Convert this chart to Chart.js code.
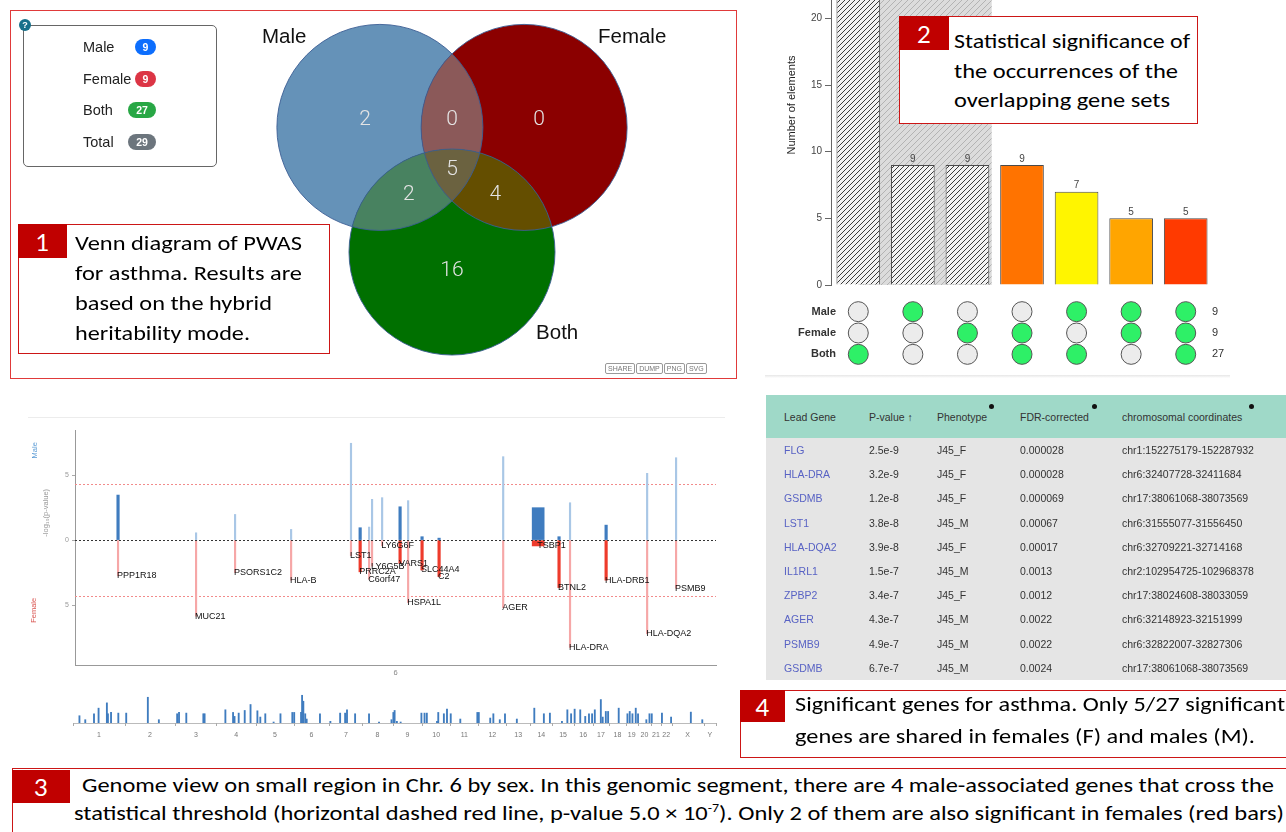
<!DOCTYPE html>
<html>
<head>
<meta charset="utf-8">
<script src="https://cdn.jsdelivr.net/npm/chart.js@4.4.1/dist/chart.umd.min.js"></script>
<style>
body { margin:0; width:1286px; height:832px; overflow:hidden; background:#fff; position:relative; font-family:"Liberation Sans", Arial, sans-serif; }
canvas { position:absolute; }
.frame { position:absolute; box-sizing:border-box; border:1.5px solid #e03a3a; pointer-events:none; }
.box { position:absolute; box-sizing:border-box; border:1.5px solid #cc1616; background:#fff; }
.tab { position:absolute; background:#c00000; color:#fff; font:24px Lato, sans-serif; display:flex; align-items:center; justify-content:center; }
.cap { position:absolute; font-family:Carlito, Lato, sans-serif; font-size:21px; line-height:1; color:#000; white-space:nowrap; transform-origin:0 0; }
.cap sup { font-size:12px; line-height:0; }
#legend { position:absolute; left:23px; top:25px; width:194px; height:142px; box-sizing:border-box; border:1.5px solid #666; border-radius:5px; background:#fff; }
.lg-name { position:absolute; left:59px; font-size:14.5px; color:#222; line-height:16px; }
.badge { position:absolute; height:16px; border-radius:8px; color:#fff; font:bold 10.5px "Liberation Sans", Arial, sans-serif; line-height:16px; text-align:center; }
#help { position:absolute; left:19px; top:19px; width:12px; height:12px; border-radius:50%; background:#17708a; color:#fff; font:bold 9px "Liberation Sans", Arial; line-height:12px; text-align:center; }
.btns { position:absolute; left:605px; top:363px; font:7px "Liberation Sans", Arial; color:#777; }
.btns span { display:inline-block; border:1px solid #999; border-radius:2px; padding:0 2px; margin-right:1px; line-height:9px; }
#tbl { position:absolute; left:766px; top:395px; width:540px; border-collapse:collapse; table-layout:fixed; font:10.5px "Liberation Sans", Arial, sans-serif; color:#333; }
#tbl th { height:43px; background:#9fd9c8; font-weight:normal; text-align:left; padding:0; position:relative; }
#tbl td { height:24.2px; background:#e5e5e5; padding:0; }
#tbl th:first-child, #tbl td:first-child { padding-left:18px; }
#tbl td.gene { color:#5862c4; }
.dot { position:absolute; top:9px; width:5px; height:5px; border-radius:50%; background:#111; }
</style>
</head>
<body>

<!-- panel 1 : venn -->
<canvas id="venn" width="726" height="368" style="left:10px;top:10px"></canvas>
<div class="frame" style="left:10px;top:10px;width:727px;height:369px"></div>
<div id="legend"></div>
<div id="help">?</div>
<div class="btns"><span>SHARE</span><span>DUMP</span><span>PNG</span><span>SVG</span></div>
<div class="box" style="left:18px;top:224px;width:312px;height:130px"></div>
<div class="tab" style="left:18px;top:224px;width:49px;height:34px">1</div>
<div class="cap" data-w="227" style="left:75px;top:233px">Venn diagram of PWAS</div>
<div class="cap" data-w="227" style="left:75px;top:263px">for asthma. Results are</div>
<div class="cap" data-w="197" style="left:75px;top:293px">based on the hybrid</div>
<div class="cap" data-w="175" style="left:75px;top:323px">heritability mode.</div>

<!-- panel 2 : upset -->
<canvas id="upset" width="465" height="380" style="left:765px;top:-85px"></canvas>
<canvas id="matrix" width="465" height="86" style="left:765px;top:290px"></canvas>
<div style="position:absolute;left:765px;top:375px;width:465px;height:3px;background:linear-gradient(#e6e6e6,#fff)"></div>
<div class="box" style="left:899px;top:16px;width:299px;height:108px"></div>
<div class="tab" style="left:899px;top:16px;width:50px;height:34px">2</div>
<div class="cap" data-w="236" style="left:954px;top:31px">Statistical significance of</div>
<div class="cap" data-w="224" style="left:954px;top:61px">the occurrences of the</div>
<div class="cap" data-w="216" style="left:954px;top:90px">overlapping gene sets</div>

<!-- panel 3 : region + genome -->
<div style="position:absolute;left:28px;top:417px;width:697px;height:1px;background:#ececec"></div>
<canvas id="miami" width="705" height="257" style="left:20px;top:420px"></canvas>
<canvas id="genome" width="705" height="54" style="left:20px;top:686px"></canvas>
<div class="box" style="left:12px;top:768px;width:1290px;height:80px"></div>
<div class="tab" style="left:12px;top:770px;width:58px;height:33px">3</div>
<div class="cap" data-w="1192" style="left:82px;top:775px">Genome view on small region in Chr. 6 by sex. In this genomic segment, there are 4 male-associated genes that cross the</div>
<div class="cap" data-w="1210" style="left:74px;top:803px">statistical threshold (horizontal dashed red line, p-value 5.0 × 10<sup>-7</sup>). Only 2 of them are also significant in females (red bars)</div>

<!-- panel 4 : table -->
<table id="tbl">
<colgroup><col style="width:103px"><col style="width:68px"><col style="width:83px"><col style="width:102px"><col style="width:184px"></colgroup>
<thead><tr id="thead"></tr></thead>
<tbody id="tbody"></tbody>
</table>
<div class="box" style="left:740px;top:690px;width:560px;height:68px"></div>
<div class="tab" style="left:740px;top:690px;width:45px;height:32px">4</div>
<div class="cap" data-w="490" style="left:795px;top:694px">Significant genes for asthma. Only 5/27 significant</div>
<div class="cap" data-w="460" style="left:795px;top:726px">genes are shared in females (F) and males (M).</div>

<script>
// ---- venn data ----
const vennSets = ['Male', 'Female', 'Both'];
const vennRegions = ['Male', 'Male+Female', 'Female', 'Male+Female+Both', 'Male+Both', 'Female+Both', 'Both'];
const vennCounts = [2, 0, 0, 5, 2, 4, 16];
const legendNames = ['Male', 'Female', 'Both', 'Total'];
const legendCounts = [9, 9, 27, 29];

// ---- upset data ----
const upsetColumns = ['B', 'M', 'F', 'F&B', 'M&B', 'M&F', 'M&F&B'];
const upsetCounts = [27, 9, 9, 9, 7, 5, 5];
const upsetMembership = [[0, 0, 1], [1, 0, 0], [0, 1, 0], [0, 1, 1], [1, 0, 1], [1, 1, 0], [1, 1, 1]];
const upsetSetSizes = [9, 9, 27];

// ---- chr6 region (Mb, -log10 p) ----
const geneNames = ['PPP1R18', 'MUC21', 'PSORS1C2', 'HLA-B', 'LST1', 'PRRC2A', 'C6orf47', 'LY6G5B', 'LY6G6F', 'VARS1',
    'HSPA1L', 'SLC44A4', 'C2', 'AGER', 'TSBP1', 'BTNL2', 'HLA-DRA', 'HLA-DRB1', 'HLA-DQA2', 'PSMB9'];
const genePosMb = [29.835, 30.261, 30.474, 30.780, 31.107, 31.157, 31.206, 31.222, 31.277, 31.375,
    31.419, 31.495, 31.588, 31.938, 32.129, 32.243, 32.303, 32.500, 32.724, 32.882];
const maleLogP = [3.46, 0.56, 1.97, 0.82, 7.44, 0.95, 1.0, 3.13, 3.26, 2.56, 3.03, 0.26, 0.15, 6.41, 2.49, 0.26, 2.87, 1.15, 5.13, 6.33];
const femaleLogP = [2.75, 5.85, 2.5, 3.08, 1.2, 2.44, 3.0, 2.0, 0.44, 1.8, 4.8, 2.3, 2.8, 5.2, 0.45, 3.65, 8.25, 3.08, 7.2, 3.7];
const maleStrong = [1, 0, 0, 0, 0, 1, 0, 0, 0, 1, 0, 1, 1, 0, 1, 1, 0, 1, 0, 0];
const femaleStrong = [0, 0, 0, 0, 0, 1, 0, 0, 0, 1, 0, 1, 1, 0, 1, 1, 0, 1, 0, 0];
const geneWide = [0, 0, 0, 0, 0, 0, 0, 0, 0, 0, 0, 0, 0, 0, 1, 0, 0, 0, 0, 0];
const thresholdLogP = 4.3;

// ---- genome overview ----
const chromNames = ['1', '2', '3', '4', '5', '6', '7', '8', '9', '10', '11', '12', '13', '14', '15', '16', '17', '18', '19', '20', '21', '22', 'X', 'Y'];
const chromLenMb = [249, 243, 198, 191, 181, 171, 159, 146, 141, 136, 135, 134, 115, 107, 103, 90, 81, 78, 59, 63, 48, 51, 155, 59];
const overviewPosMb = [31, 59, 101, 123, 163, 168, 183, 218, 256, 360, 413, 501, 510, 545, 627, 633, 733, 770, 777, 797,
    826, 854, 887, 901, 925, 965, 998, 1055, 1064, 1097, 1102, 1108, 1117, 1124, 1188, 1238, 1285, 1309, 1318, 1357,
    1424, 1472, 1532, 1541, 1547, 1558, 1576, 1676, 1691, 1702, 1751, 1757, 1784, 1799, 1817, 1863, 1945, 1952, 2007, 2022,
    2053, 2078, 2135, 2219, 2265, 2294, 2352, 2378, 2396, 2413, 2440, 2464, 2482, 2497, 2510, 2539, 2548, 2563, 2574, 2625,
    2667, 2678, 2691, 2707, 2718, 2758, 2773, 2784, 2833, 2877, 2972, 3027];
const overviewLogP = [2.2, 1.0, 2.8, 4.5, 6.1, 2.8, 3.2, 3.0, 3.0, 7.8, 1.0, 2.8, 3.2, 3.0, 2.8, 2.8, 4.0, 3.2, 2.0, 3.0,
    3.8, 5.6, 3.7, 1.8, 2.8, 0.3, 2.8, 3.2, 3.2, 3.2, 8.4, 6.6, 2.8, 1.2, 2.8, 0.5, 3.0, 3.0, 4.0, 2.8,
    2.8, 0.3, 1.0, 3.2, 3.8, 0.5, 0.3, 3.0, 3.0, 3.0, 0.5, 3.2, 2.8, 4.2, 2.8, 1.2, 3.2, 3.2, 1.5, 2.8,
    1.0, 2.8, 1.2, 4.5, 2.8, 3.0, 0.5, 4.0, 2.8, 4.2, 4.0, 2.0, 2.8, 2.8, 4.0, 7.1, 1.8, 3.5, 3.5, 4.5,
    2.8, 3.5, 2.8, 4.5, 2.8, 1.0, 2.8, 2.8, 3.0, 1.8, 3.3, 1.0];

// ---- table ----
const tableHeaders = ['Lead Gene', 'P-value ↑', 'Phenotype', 'FDR-corrected', 'chromosomal coordinates'];
const tableGenes = ['FLG', 'HLA-DRA', 'GSDMB', 'LST1', 'HLA-DQA2', 'IL1RL1', 'ZPBP2', 'AGER', 'PSMB9', 'GSDMB'];
const tablePValues = ['2.5e-9', '3.2e-9', '1.2e-8', '3.8e-8', '3.9e-8', '1.5e-7', '3.4e-7', '4.3e-7', '4.9e-7', '6.7e-7'];
const tablePhenotypes = ['J45_F', 'J45_F', 'J45_F', 'J45_M', 'J45_F', 'J45_M', 'J45_F', 'J45_M', 'J45_M', 'J45_M'];
const tableFdr = ['0.000028', '0.000028', '0.000069', '0.00067', '0.00017', '0.0013', '0.0012', '0.0022', '0.0022', '0.0024'];
const tableCoords = ['chr1:152275179-152287932', 'chr6:32407728-32411684', 'chr17:38061068-38073569', 'chr6:31555077-31556450',
    'chr6:32709221-32714168', 'chr2:102954725-102968378', 'chr17:38024608-38033059', 'chr6:32148923-32151999',
    'chr6:32822007-32827306', 'chr17:38061068-38073569'];

// layout of the venn circles (radius = 1 unit)
const vennCircles = [{ x: -0.70, y: 1.21, r: 1 }, { x: 0.70, y: 1.21, r: 1 }, { x: 0, y: 0, r: 1 }];
const vennLabelPos = [[-0.845, 1.28], [0, 1.28], [0.845, 1.28], [0, 0.80], [-0.42, 0.56], [0.42, 0.56], [0, -0.18]];
const vennSetLabelPos = [[-1.845, 2.087], [1.417, 2.087], [0.816, -0.786]];
const vennColors = ['#6592b8', '#8b0000', '#007000'];
const vennOverlaps = [
    { sets: [0, 1], color: '#8b5959' },
    { sets: [0, 2], color: '#488260' },
    { sets: [1, 2], color: '#644e00' },
    { sets: [0, 1, 2], color: '#6b6240' }
];
const badgeColors = ['#0d6efd', '#dc3545', '#28a745', '#6c757d'];

Chart.defaults.font.family = '"Liberation Sans", Arial, sans-serif';
Chart.defaults.animation = false;
Chart.defaults.plugins.legend.display = false;
Chart.defaults.plugins.tooltip.enabled = false;

// ---------- legend box ----------
const legendEl = document.getElementById('legend');
legendNames.forEach((name, i) => {
    const top = 13 + i * 31.7;
    const w = String(legendCounts[i]).length > 1 ? 28 : 21;
    legendEl.innerHTML += `<div class="lg-name" style="top:${top}px">${name}</div>` +
        `<div class="badge" style="top:${top}px;left:${132 - w}px;width:${w}px;background:${badgeColors[i]}">${legendCounts[i]}</div>`;
});

// ---------- venn ----------
const vennPlugin = {
    id: 'venn',
    beforeDatasetsDraw(chart) {
        const { ctx, scales: { x, y } } = chart;
        const circ = vennCircles.map(c => ({
            cx: x.getPixelForValue(c.x),
            cy: y.getPixelForValue(c.y),
            r: x.getPixelForValue(c.x + c.r) - x.getPixelForValue(c.x)
        }));
        const path = c => { ctx.beginPath(); ctx.arc(c.cx, c.cy, c.r, 0, Math.PI * 2); };
        ctx.save();
        circ.forEach((c, i) => { path(c); ctx.fillStyle = vennColors[i]; ctx.fill(); });
        vennOverlaps.forEach(o => {
            ctx.save();
            o.sets.slice(0, -1).forEach(i => { path(circ[i]); ctx.clip(); });
            path(circ[o.sets[o.sets.length - 1]]);
            ctx.fillStyle = o.color;
            ctx.fill();
            ctx.restore();
        });
        circ.forEach(c => { path(c); ctx.strokeStyle = '#3b5d94'; ctx.lineWidth = 0.9; ctx.stroke(); });
        ctx.restore();
    },
    afterDatasetsDraw(chart) {
        const { ctx, scales: { x, y } } = chart;
        ctx.save();
        ctx.textAlign = 'center';
        ctx.textBaseline = 'middle';
        ctx.fillStyle = '#e4e4e4';
        ctx.font = '300 21px Roboto, sans-serif';
        chart.getDatasetMeta(0).data.forEach((pt, i) => ctx.fillText(vennCounts[i], pt.x, pt.y));
        ctx.textAlign = 'left';
        ctx.fillStyle = '#111';
        ctx.font = '20.5px "Liberation Sans", Arial, sans-serif';
        vennSets.forEach((s, i) => {
            ctx.fillText(s, x.getPixelForValue(vennSetLabelPos[i][0]), y.getPixelForValue(vennSetLabelPos[i][1]));
        });
        ctx.restore();
    }
};

new Chart(document.getElementById('venn'), {
    type: 'scatter',
    data: { datasets: [{ data: vennLabelPos.map(p => ({ x: p[0], y: p[1] })), pointRadius: 0 }] },
    options: {
        responsive: false,
        devicePixelRatio: 1,
        layout: { padding: 0 },
        scales: {
            x: { type: 'linear', min: -4.291, max: 2.757, display: false },
            y: { type: 'linear', min: -1.223, max: 2.350, display: false }
        }
    },
    plugins: [vennPlugin]
});

// ---------- upset bars ----------
function makeHatch(ctx, bg, line, gap) {
    const c = document.createElement('canvas');
    c.width = gap; c.height = gap;
    const g = c.getContext('2d');
    g.fillStyle = bg;
    g.fillRect(0, 0, gap, gap);
    g.strokeStyle = line;
    g.lineWidth = 1;
    g.beginPath();
    g.moveTo(0, gap); g.lineTo(gap, 0);
    g.moveTo(-1, 1); g.lineTo(1, -1);
    g.moveTo(gap - 1, gap + 1); g.lineTo(gap + 1, gap - 1);
    g.stroke();
    return ctx.createPattern(c, 'repeat');
}

const upsetCanvas = document.getElementById('upset');
const upsetCtx = upsetCanvas.getContext('2d');
const barHatch = makeHatch(upsetCtx, '#f2f2f2', '#3a3a3a', 5);
const bandHatch = makeHatch(upsetCtx, '#dcdcdc', '#b3b3b3', 6);
const barFills = [barHatch, barHatch, barHatch, '#ff7300', '#fff500', '#ffa500', '#ff3a00'];

const upsetPlugin = {
    id: 'upsetDeco',
    beforeDatasetsDraw(chart) {
        const { ctx, chartArea, scales: { x, y } } = chart;
        const cw = x.getPixelForValue(1) - x.getPixelForValue(0);
        ctx.save();
        ctx.fillStyle = bandHatch;
        const x0 = x.getPixelForValue(0);
        const x1 = x.getPixelForValue(2) + cw / 2 - 3;
        ctx.fillRect(x0, chartArea.top, x1 - x0, y.getPixelForValue(0) - chartArea.top);
        ctx.restore();
    },
    afterDatasetsDraw(chart) {
        const { ctx, chartArea } = chart;
        ctx.save();
        ctx.font = '10px "Liberation Sans", Arial, sans-serif';
        ctx.fillStyle = '#444';
        ctx.textAlign = 'center';
        ctx.textBaseline = 'bottom';
        chart.getDatasetMeta(0).data.forEach((bar, i) => ctx.fillText(upsetCounts[i], bar.x, bar.y - 1));
        ctx.translate(chartArea.left - 39, (chartArea.top + chartArea.bottom) / 2);
        ctx.rotate(-Math.PI / 2);
        ctx.textBaseline = 'middle';
        ctx.font = '11px "Liberation Sans", Arial, sans-serif';
        ctx.fillStyle = '#222';
        ctx.fillText('Number of elements', 0, 0);
        ctx.restore();
    }
};

new Chart(upsetCtx, {
    type: 'bar',
    data: {
        labels: upsetColumns,
        datasets: [{
            data: upsetCounts,
            backgroundColor: barFills,
            borderColor: '#4a4a4a',
            borderWidth: 1,
            barPercentage: 0.8,
            categoryPercentage: 1
        }]
    },
    options: {
        responsive: false,
        devicePixelRatio: 1,
        layout: { padding: { top: 10, right: 17, bottom: 10, left: 0 } },
        scales: {
            x: { display: false },
            y: {
                min: 0,
                max: 27,
                afterFit: s => { s.width = 66; },
                ticks: { stepSize: 5, includeBounds: false, color: '#444', font: { size: 10 }, padding: 3 },
                grid: { drawOnChartArea: false, tickLength: 6, color: '#666' },
                border: { color: '#666' }
            }
        }
    },
    plugins: [upsetPlugin]
});

// ---------- upset matrix ----------
const matrixPoints = [];
const matrixColors = [];
upsetColumns.forEach((col, c) => {
    vennSets.forEach((s, r) => {
        matrixPoints.push({ x: col, y: s });
        matrixColors.push(upsetMembership[c][r] ? '#2ef067' : '#ececec');
    });
});

const matrixPlugin = {
    id: 'matrixLabels',
    afterDraw(chart) {
        const { ctx, chartArea, scales: { y } } = chart;
        ctx.save();
        ctx.textBaseline = 'middle';
        ctx.fillStyle = '#333';
        ctx.font = 'bold 11px "Liberation Sans", Arial, sans-serif';
        ctx.textAlign = 'right';
        vennSets.forEach((s, i) => ctx.fillText(s, chartArea.left + 5, y.getPixelForValue(i)));
        ctx.font = '11px "Liberation Sans", Arial, sans-serif';
        ctx.textAlign = 'left';
        upsetSetSizes.forEach((n, i) => ctx.fillText(n, chartArea.right - 1, y.getPixelForValue(i)));
        ctx.restore();
    }
};

new Chart(document.getElementById('matrix'), {
    type: 'scatter',
    data: {
        labels: upsetColumns,
        datasets: [{
            data: matrixPoints,
            pointRadius: 10,
            pointBackgroundColor: matrixColors,
            pointBorderColor: '#555',
            pointBorderWidth: 1,
            clip: false
        }]
    },
    options: {
        responsive: false,
        devicePixelRatio: 1,
        layout: { padding: { top: 3, right: 17, bottom: 2, left: 66 } },
        scales: {
            x: { type: 'category', offset: true, display: false },
            y: { type: 'category', labels: vennSets, offset: true, display: false }
        }
    },
    plugins: [matrixPlugin]
});

// ---------- chr6 region plot ----------
function geneSeries(values, sign, pick) {
    return geneNames.map((g, i) => pick(i) ? { x: genePosMb[i], y: sign * values[i] } : null).filter(Boolean);
}
const miamiDatasets = [
    { data: geneSeries(maleLogP, 1, i => !maleStrong[i]), backgroundColor: '#a9c7e6', barThickness: 1.5 },
    { data: geneSeries(femaleLogP, -1, i => !femaleStrong[i]), backgroundColor: '#f6a7a7', barThickness: 1.5 },
    { data: geneSeries(maleLogP, 1, i => maleStrong[i] && !geneWide[i]), backgroundColor: '#3f7cbf', barThickness: 2.5 },
    { data: geneSeries(femaleLogP, -1, i => femaleStrong[i] && !geneWide[i]), backgroundColor: '#ee3b2c', barThickness: 2.5 },
    { data: geneSeries(maleLogP, 1, i => geneWide[i]), backgroundColor: '#3f7cbf', barThickness: 12 },
    { data: geneSeries(femaleLogP, -1, i => geneWide[i]), backgroundColor: '#ee3b2c', barThickness: 12 }
];

const miamiPlugin = {
    id: 'miamiDeco',
    beforeDatasetsDraw(chart) {
        const { ctx, chartArea, scales: { y } } = chart;
        ctx.save();
        ctx.strokeStyle = '#f28b8b';
        ctx.lineWidth = 1;
        ctx.setLineDash([2, 2]);
        [thresholdLogP, -thresholdLogP].forEach(v => {
            const py = Math.round(y.getPixelForValue(v)) + 0.5;
            ctx.beginPath(); ctx.moveTo(chartArea.left, py); ctx.lineTo(chartArea.right, py); ctx.stroke();
        });
        ctx.restore();
    },
    afterDatasetsDraw(chart) {
        const { ctx, chartArea, scales: { x, y } } = chart;
        ctx.save();
        ctx.strokeStyle = '#333';
        ctx.setLineDash([2, 2]);
        const py = Math.round(y.getPixelForValue(0)) + 0.5;
        ctx.beginPath(); ctx.moveTo(chartArea.left, py); ctx.lineTo(chartArea.right, py); ctx.stroke();
        ctx.setLineDash([]);
        ctx.font = '9px "Liberation Sans", Arial, sans-serif';
        ctx.fillStyle = '#111';
        ctx.textAlign = 'left';
        ctx.textBaseline = 'middle';
        geneNames.forEach((g, i) => {
            ctx.fillText(g, x.getPixelForValue(genePosMb[i]) - 1, y.getPixelForValue(-femaleLogP[i]));
        });
        // axis titles
        const titles = [['Male', '#5b9bd5', 6.9, 40], ['-log\u2081\u2080(p-value)', '#999', 2.1, 29], ['Female', '#d9534f', -5.4, 41]];
        ctx.font = '7.5px "Liberation Sans", Arial, sans-serif';
        ctx.textAlign = 'center';
        titles.forEach(t => {
            ctx.save();
            ctx.translate(chartArea.left - t[3], y.getPixelForValue(t[2]));
            ctx.rotate(-Math.PI / 2);
            ctx.fillStyle = t[1];
            ctx.fillText(t[0], 0, 0);
            ctx.restore();
        });
        ctx.restore();
    }
};

new Chart(document.getElementById('miami'), {
    type: 'bar',
    data: { datasets: miamiDatasets },
    options: {
        responsive: false,
        devicePixelRatio: 1,
        layout: { padding: { top: 10, right: 9, bottom: 0, left: 0 } },
        datasets: { bar: { grouped: false, borderWidth: 0 } },
        scales: {
            x: {
                type: 'linear',
                offset: false,
                min: 29.60,
                max: 33.10,
                afterFit: s => { s.height = 12; },
                ticks: { display: false },
                grid: { display: false },
                border: { color: '#999' },
                title: { display: true, text: '6', color: '#888', font: { size: 7.5 }, padding: { top: 0, bottom: 0 } }
            },
            y: {
                min: -9.6,
                max: 8.46,
                afterFit: s => { s.width = 55; },
                afterBuildTicks: s => { s.ticks = [-5, 0, 5].map(v => ({ value: v })); },
                ticks: { color: '#999', font: { size: 7 }, padding: 3, callback: v => Math.abs(v) },
                grid: { drawOnChartArea: false, tickLength: 3, color: '#aaa' },
                border: { color: '#999' }
            }
        }
    },
    plugins: [miamiPlugin]
});

// ---------- genome overview ----------
const chromStart = [];
const chromCenters = [];
let acc = 0;
chromLenMb.forEach(len => { chromStart.push(acc); chromCenters.push(acc + len / 2); acc += len; });
const genomeTotal = acc;

const genomePlugin = {
    id: 'chromTicks',
    afterDraw(chart) {
        const { ctx, chartArea, scales: { x } } = chart;
        ctx.save();
        ctx.strokeStyle = '#aaa';
        ctx.lineWidth = 1;
        chromStart.concat([genomeTotal]).forEach(v => {
            const px = Math.round(x.getPixelForValue(v)) + 0.5;
            ctx.beginPath(); ctx.moveTo(px, chartArea.bottom); ctx.lineTo(px, chartArea.bottom + 3); ctx.stroke();
        });
        ctx.restore();
    }
};

new Chart(document.getElementById('genome'), {
    type: 'bar',
    data: {
        datasets: [{
            data: overviewPosMb.map((p, i) => ({ x: p, y: overviewLogP[i] })),
            backgroundColor: '#3f7cbf',
            barThickness: 1.2,
            borderWidth: 0
        }]
    },
    options: {
        responsive: false,
        devicePixelRatio: 1,
        layout: { padding: { top: 4, right: 9, bottom: 0, left: 53 } },
        scales: {
            x: {
                type: 'linear',
                offset: false,
                min: 0,
                max: genomeTotal,
                afterFit: s => { s.height = 17; },
                afterBuildTicks: s => { s.ticks = chromCenters.map(v => ({ value: v })); },
                ticks: { autoSkip: false, maxRotation: 0, color: '#777', font: { size: 7 }, padding: 0, callback: (v, i) => chromNames[i] },
                grid: { display: false },
                border: { color: '#bbb' }
            },
            y: { min: 0, max: 10, display: false }
        }
    },
    plugins: [genomePlugin]
});

// ---------- table ----------
const headRow = document.getElementById('thead');
const dotLeft = [null, null, 52, 72, 127];
tableHeaders.forEach((h, i) => {
    headRow.innerHTML += `<th>${h}${dotLeft[i] !== null ? `<span class="dot" style="left:${dotLeft[i]}px"></span>` : ''}</th>`;
});
const tbody = document.getElementById('tbody');
tableGenes.forEach((g, i) => {
    tbody.innerHTML += `<tr><td class="gene">${g}</td><td>${tablePValues[i]}</td><td>${tablePhenotypes[i]}</td>` +
        `<td>${tableFdr[i]}</td><td>${tableCoords[i]}</td></tr>`;
});

// squeeze caption lines to the widths of the original text
document.querySelectorAll('.cap[data-w]').forEach(el => {
    const w = el.getBoundingClientRect().width;
    el.style.transform = `scaleX(${el.dataset.w / w})`;
});
</script>
</body>
</html>
